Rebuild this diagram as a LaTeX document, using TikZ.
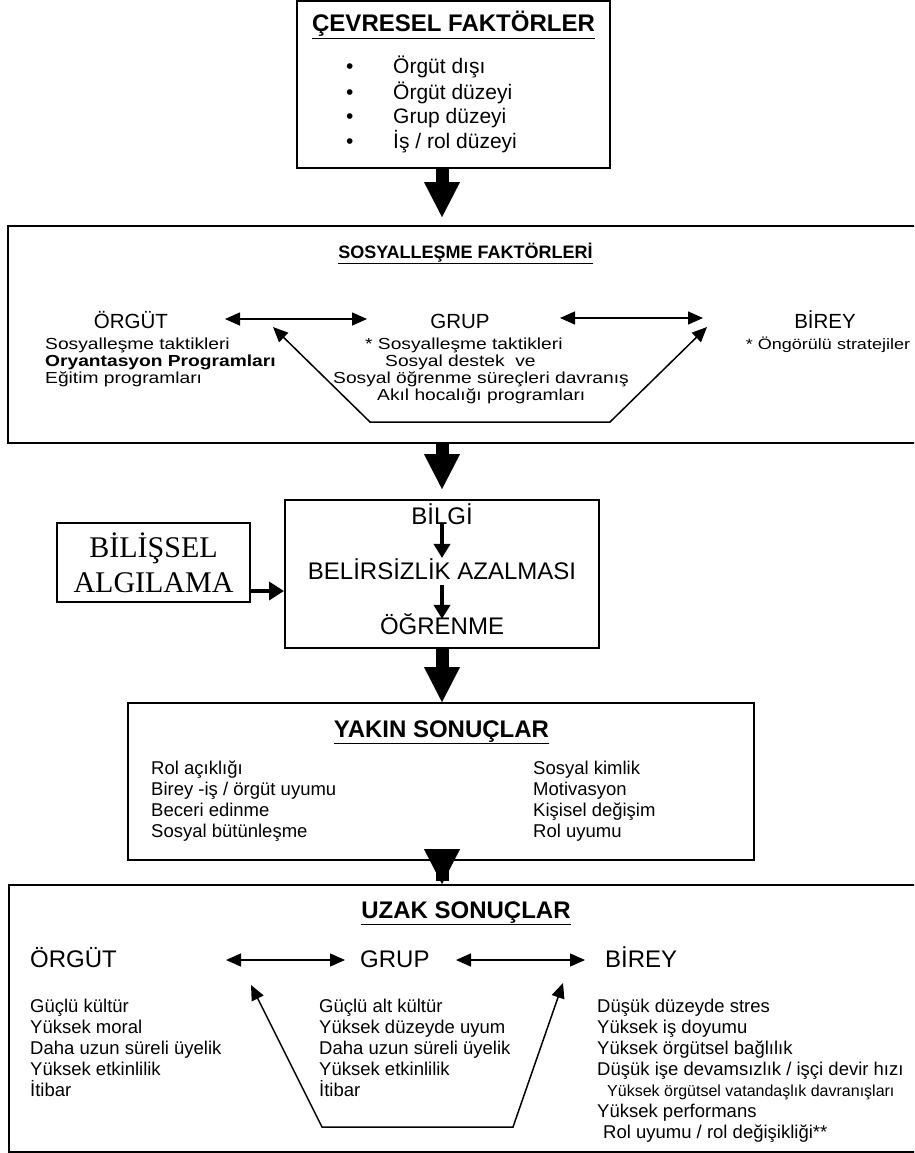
\documentclass[tikz,border=0pt]{standalone}
\usepackage{fontspec}
\setmainfont{Liberation Sans}
\newfontfamily\serifbox{Liberation Serif}
\newfontfamily\widesans[FakeStretch=1.2]{Liberation Sans}
\usepackage{tikz}
\usetikzlibrary{arrows.meta}
\usetikzlibrary{calc}
\tikzset{
    frame/.style={draw=black, line width=2pt, inner sep=0pt},
    txt/.style={inner sep=0pt, anchor=base, font=\fontsize{24}{28}\selectfont},
    heading/.style={inner sep=0pt, anchor=base, font=\bfseries\fontsize{24}{28}\selectfont},
    % base of a list node is the baseline of its last line
    lst/.style={inner sep=0pt, anchor=base west, align=left, font=\fontsize{18.5}{21}\selectfont},
    widelst/.style={lst, font=\widesans\fontsize{16}{17}\selectfont},
    bigarrow/.style={draw=black, line width=13pt, -{Triangle[width=36pt,length=35pt,line width=0.1pt]}},
    twoway/.style={draw=black, line width=1.5pt, {Triangle[width=13pt,length=15pt]}-{Triangle[width=13pt,length=15pt]}},
    steparrow/.style={draw=black, line width=4pt, -{Triangle[width=16pt,length=14pt]}},
    sidearrow/.style={draw=black, line width=4.5pt, -{Triangle[width=18pt,length=15pt]}},
}

\begin{document}
\begin{tikzpicture}[x=1pt, y=-1pt]
	\useasboundingbox (0,0) rectangle (914,1153);
	\clip (0,0) rectangle (914,1153);
	% boxes
	\node[frame, minimum width=313pt, minimum height=167pt] (cevre) at (453.5,84.5) {};
	\node[frame, minimum width=912pt, minimum height=217pt] (sosyal) at (464,334.5) {};
	\node[frame, minimum width=314pt, minimum height=148pt] (bilgibox) at (442,574) {};
	\node[frame, minimum width=193pt, minimum height=79pt, align=center,
		font=\serifbox\fontsize{30}{35}\selectfont] (bilissel) at (153.5,562.5) {BİLİŞSEL\\ALGILAMA};
	\node[frame, minimum width=626pt, minimum height=157pt] (yakin) at (441,781.5) {};
	\node[frame, minimum width=911pt, minimum height=267pt] (uzak) at (464.5,1018.5) {};

	% cevresel faktorler
	\node[heading] (cevtitle) at (453.5,32) {\underline{ÇEVRESEL FAKTÖRLER}};
	\node[lst, font=\fontsize{21}{25}\selectfont] (cevdots) at (346,149) {\textbullet\\\textbullet\\\textbullet\\\textbullet};
	\node[lst, font=\fontsize{21}{25}\selectfont] (cevlist) at (393,149) {Örgüt dışı\\Örgüt düzeyi\\Grup düzeyi\\İş / rol düzeyi};

	% sosyallesme faktorleri
	\node[heading, font=\bfseries\fontsize{18}{20}\selectfont] (stitle) at (465.5,258) {\underline{SOSYALLEŞME FAKTÖRLERİ}};
	\node[txt, font=\fontsize{20.5}{24}\selectfont] (sorg) at (131,328) {ÖRGÜT};
	\node[txt, font=\fontsize{20.5}{24}\selectfont] (sgrup) at (460,328) {GRUP};
	\node[txt, font=\fontsize{20.5}{24}\selectfont] (sbirey) at (825,328) {BİREY};
	\node[widelst] (sorglist) at (45,383) {Sosyalleşme taktikleri\\\textbf{Oryantasyon Programları}\\Eğitim programları};
	\node[widelst] (sgruplist) at (333,400) {\hspace*{32pt}* Sosyalleşme taktikleri\\\hspace*{52pt}Sosyal destek\ \ ve\\Sosyal öğrenme süreçleri davranış\\\hspace*{44pt}Akıl hocalığı programları};
	\node[txt, font=\widesans\fontsize{15}{17}\selectfont] (sbireylist) at (828,349) {* Öngörülü stratejiler};
	\coordinate (sa1) at (225,319);
	\coordinate (sa2) at (367,319);
	\coordinate (sb1) at (560,318);
	\coordinate (sb2) at (703,318);
	\coordinate (sv1) at (273,327);
	\coordinate (sv2) at (370,422);
	\coordinate (sv3) at (610,422);
	\coordinate (sv4) at (707,327);
	\draw[twoway] (sa1) -- (sa2);
	\draw[twoway] (sb1) -- (sb2);
	\draw[twoway] (sv1) -- (sv2) -- (sv3) -- (sv4);

	% bilgi / belirsizlik / ogrenme
	\node[txt] (bilgi) at (442,524) {BİLGİ};
	\node[txt] (belirsiz) at (442,579) {BELİRSİZLİK AZALMASI};
	\node[txt] (ogrenme) at (442,634) {ÖĞRENME};
	\draw[steparrow] (bilgi.south) -- (belirsiz.north);
	\draw[steparrow, shorten <=6pt, shorten >=-6pt] (belirsiz.south) -- (ogrenme.north);
	\coordinate (bout) at ([yshift=-28.5pt]bilissel.east);
	\draw[sidearrow] (bout) -- (bout -| bilgibox.west);

	% yakin sonuclar
	\node[heading] (ytitle) at (441.5,737) {\underline{YAKIN SONUÇLAR}};
	\node[lst] (yleft) at (151,837) {Rol açıklığı\\Birey -iş / örgüt uyumu\\Beceri edinme\\Sosyal bütünleşme};
	\node[lst] (yright) at (533,837) {Sosyal kimlik\\Motivasyon\\Kişisel değişim\\Rol uyumu};

	% uzak sonuclar
	\node[heading] (utitle) at (466,918) {\underline{UZAK SONUÇLAR}};
	\node[txt, anchor=base west] (uorg) at (30,967) {ÖRGÜT};
	\node[txt, anchor=base west] (ugrup) at (360,967) {GRUP};
	\node[txt, anchor=base west] (ubirey) at (605,967) {BİREY};
	\node[lst] (uorglist) at (30,1096) {Güçlü kültür\\Yüksek moral\\Daha uzun süreli üyelik\\Yüksek etkinlilik\\İtibar};
	\node[lst] (ugruplist) at (319,1096) {Güçlü alt kültür\\Yüksek düzeyde uyum\\Daha uzun süreli üyelik\\Yüksek etkinlilik\\İtibar};
	\node[lst] (ubireylist) at (597,1138) {Düşük düzeyde stres\\Yüksek iş doyumu\\Yüksek örgütsel bağlılık\\Düşük işe devamsızlık / işçi devir hızı\\\hspace*{10pt}{\fontsize{16}{21}\selectfont Yüksek örgütsel vatandaşlık davranışları}\\Yüksek performans\\\hspace*{6pt}Rol uyumu / rol değişikliği**};
	\coordinate (ua1) at (226,960);
	\coordinate (ua2) at (345,960);
	\coordinate (ub1) at (456,960);
	\coordinate (ub2) at (585,960);
	\coordinate (uv1) at (251,985);
	\coordinate (uv2) at (322,1127);
	\coordinate (uv3) at (513,1127);
	\coordinate (uv4) at (563,983);
	\draw[twoway] (ua1) -- (ua2);
	\draw[twoway] (ub1) -- (ub2);
	\draw[twoway] (uv1) -- (uv2) -- (uv3) -- (uv4);

	% thick arrows
	\draw[bigarrow, shorten >=8pt] (bilgibox.north |- cevre.south) -- (bilgibox.north |- sosyal.north);
	\draw[bigarrow, shorten >=10pt] (sosyal.south -| bilgibox.north) -- (bilgibox.north);
	\draw[bigarrow] (bilgibox.south) -- (bilgibox.south |- yakin.north);
	\draw[bigarrow, shorten <=-20pt] (bilgibox.south |- yakin.south) -- (bilgibox.south |- uzak.north);
\end{tikzpicture}
\end{document}
